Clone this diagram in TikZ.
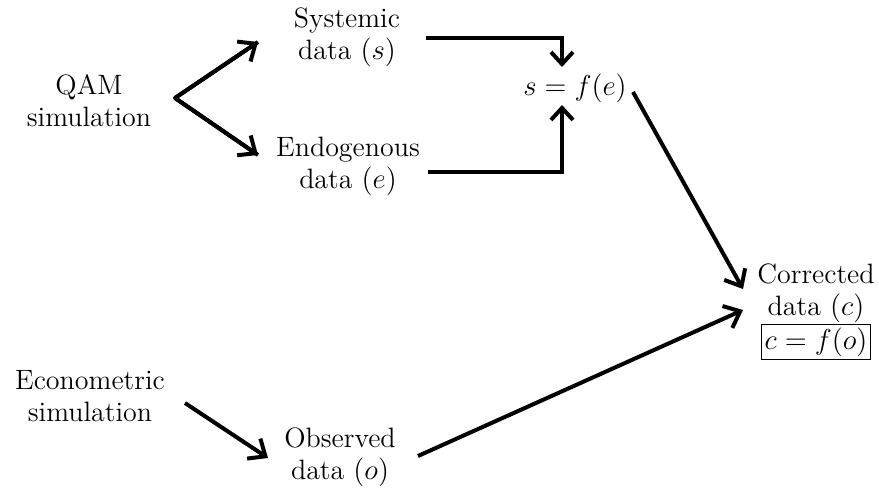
\documentclass[tikz,border=0pt]{standalone}
\usetikzlibrary{arrows.meta}
\begin{document}
\begin{tikzpicture}[x=0.5pt,y=-0.5pt,
  lbl/.style={align=center,inner sep=1pt,font=\fontsize{14}{16}\selectfont},
  arr/.style={line width=2pt,-{Straight Barb[length=7pt,width=12pt,line width=2pt]}},
  elb/.style={line width=2pt,-{Straight Barb[length=6pt,width=11pt,line width=2pt]}}]
\useasboundingbox (0,0) rectangle (879,489);
\node[lbl] (qam) at (89,101) {QAM\\simulation};
\node[lbl] (sys) at (347,37) {Systemic\\data $(s)$};
\node[lbl] (endo) at (348,166) {Endogenous\\data $(e)$};
\node[lbl] (sfe) at (575,88) {$s=f(e)$};
\node[lbl] (corr) at (816,293) {Corrected\\data $(c)$};
\node[lbl,draw,line width=0.6pt,inner sep=1.5pt] (box) at (816,342) {$c=f(o)$};
\node[lbl] (eco) at (90,396) {Econometric\\simulation};
\node[lbl] (obs) at (340,457) {Observed\\data $(o)$};
% connector end points
\coordinate (apex) at (175,98);
\coordinate (sysin) at (258,42);
\coordinate (endoin) at (258,155);
\coordinate (sysout) at (426,38);
\coordinate (endoout) at (428,172);
\coordinate (sfetop) at (562,67);
\coordinate (sfebot) at (562,105);
\coordinate (sfeout) at (633,92);
\coordinate (corrin1) at (743,289);
\coordinate (corrin2) at (743,310);
\coordinate (ecoout) at (185,403);
\coordinate (obsin) at (268,458);
\coordinate (obsout) at (418,456);
\draw[line width=2pt,line join=round] (sysin) -- (apex) -- (endoin);
\draw[arr] (apex) -- (sysin);
\draw[arr] (apex) -- (endoin);
\draw[elb] (sysout) -| (sfetop);
\draw[elb] (endoout) -| (sfebot);
\draw[arr] (sfeout) -- (corrin1);
\draw[arr] (obsout) -- (corrin2);
\draw[arr] (ecoout) -- (obsin);
\end{tikzpicture}
\end{document}
